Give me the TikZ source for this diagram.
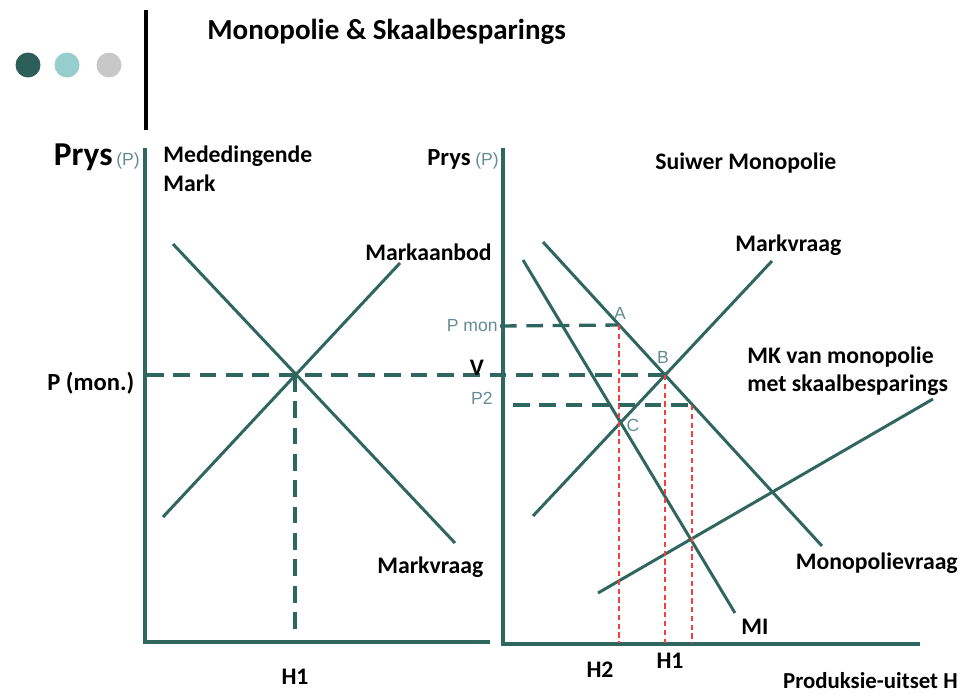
\documentclass[tikz,border=0pt]{standalone}
\usepackage{fontspec}
\setmainfont{Carlito}
\newfontfamily\smallsans{Liberation Sans}
\definecolor{teal}{RGB}{47,102,96}
\definecolor{dotdark}{RGB}{45,95,90}
\definecolor{dotlight}{RGB}{150,205,205}
\definecolor{dotgray}{RGB}{200,200,200}
\definecolor{softlbl}{RGB}{100,140,150}
\definecolor{reddash}{RGB}{250,60,60}
\tikzset{
  axisline/.style={line width=1.8pt,color=teal},
  curve/.style={line width=1.7pt,color=teal},
  guide/.style={line width=1.9pt,color=teal,dash pattern=on 9.5pt off 5.5pt},
  redguide/.style={line width=0.8pt,color=reddash,dash pattern=on 3pt off 2pt},
  lbl/.style={inner sep=0pt,font=\fontsize{13.5}{16}\selectfont\bfseries},
  soft/.style={inner sep=0pt,text=softlbl,font=\smallsans\fontsize{10}{12}\selectfont}
}
\begin{document}
\begin{tikzpicture}[x=0.02cm,y=-0.02cm]
\useasboundingbox (0,0) rectangle (961,697);
% header
\fill[dotdark] (28,65) circle (12.5);
\fill[dotlight] (67,65) circle (12.5);
\fill[dotgray] (109,65) circle (12.5);
\draw[line width=1.8pt] (146,10) -- (146,130);
\node[lbl,anchor=west,font=\fontsize{16.5}{20}\selectfont\bfseries] (title) at (207,32) {Monopolie \& Skaalbesparings};

% mededingende mark
\coordinate (lo) at (145,642);
\draw[axisline] (145,148) -- (lo) -- (490,642);
\coordinate (ld1) at (173,244);
\coordinate (ld2) at (455,543);
\coordinate (ls1) at (163,517);
\coordinate (ls2) at (400,263);
\coordinate (le) at (295,375);
\draw[curve] (ld1) -- (ld2);
\draw[curve] (ls1) -- (ls2);
\draw[guide] (le) -- (295,630);

% suiwer monopolie
\coordinate (ro) at (503,644);
\draw[axisline] (503,148) -- (ro) -- (920,644);
\coordinate (mv1) at (543,242);
\coordinate (mv2) at (822,546);
\coordinate (mi1) at (523,260);
\coordinate (mi2) at (735,613);
\coordinate (rs1) at (533,516);
\coordinate (rs2) at (772,261);
\coordinate (mk1) at (598,593);
\coordinate (mk2) at (933,399);
\coordinate (ptA) at (619,325);
\coordinate (ptB) at (665,375);
\coordinate (ptD) at (692,405);
\draw[curve] (mv1) -- (mv2);
\draw[curve] (mi1) -- (mi2);
\draw[curve] (rs1) -- (rs2);
\draw[curve] (mk1) -- (mk2);

% stippellyne
\draw[guide] (147,375) -- (ptB);
\draw[guide] (500,326) -- (ptA);
\draw[guide] (513,405) -- (ptD);
\draw[redguide] (ptA) -- (619,643);
\draw[redguide] (ptB) -- (665,643);
\draw[redguide] (ptD) -- (692,643);

% byskrifte links
\node[lbl,anchor=base east,font=\fontsize{19}{22}\selectfont\bfseries] (prysL) at (113,165) {Prys};
\node[soft,anchor=base west] (pL) at (116,165) {(P)};
\node[lbl,anchor=north west,align=left] (medmark) at (163,146) {Mededingende\\Mark};
\node[lbl,anchor=west] (aanbod) at (365,252) {Markaanbod};
\node[lbl,anchor=west,font=\fontsize{14}{16}\selectfont\bfseries] (pmonL) at (47,383) {P (mon.)};
\node[lbl,anchor=west] (vraagL) at (377,567) {Markvraag};
\node[lbl] (h1L) at (295,677) {H1};

% byskrifte regs
\node[lbl,anchor=base east,font=\fontsize{14}{16}\selectfont\bfseries] (prysR) at (471,165) {Prys};
\node[soft,anchor=base west] (pR) at (475,165) {(P)};
\node[lbl,anchor=west] (suiwer) at (655,163) {Suiwer Monopolie};
\node[lbl,anchor=west] (vraagR) at (735,245) {Markvraag};
\node[lbl,anchor=north west,align=left] (mk) at (747,346) {MK van monopolie\\met skaalbesparings};
\node[lbl,anchor=east] (monvraag) at (958,563) {Monopolievraag};
\node[lbl,anchor=west] (mi) at (741,627) {MI};
\node[lbl] (h2) at (600,670) {H2};
\node[lbl] (h1R) at (670,661) {H1};
\node[lbl,anchor=base east,font=\fontsize{13}{15}\selectfont\bfseries] (uitset) at (958,688) {Produksie-uitset H};
\node[soft,anchor=east] (pmon) at (498,326) {P mon};
\node[soft,anchor=east] (p2) at (493,398) {P2};
\node[lbl] (v) at (477,368) {V};
\node[soft] (a) at (620,313) {A};
\node[soft] (b) at (663,357) {B};
\node[soft] (c) at (633,425) {C};
\end{tikzpicture}
\end{document}
